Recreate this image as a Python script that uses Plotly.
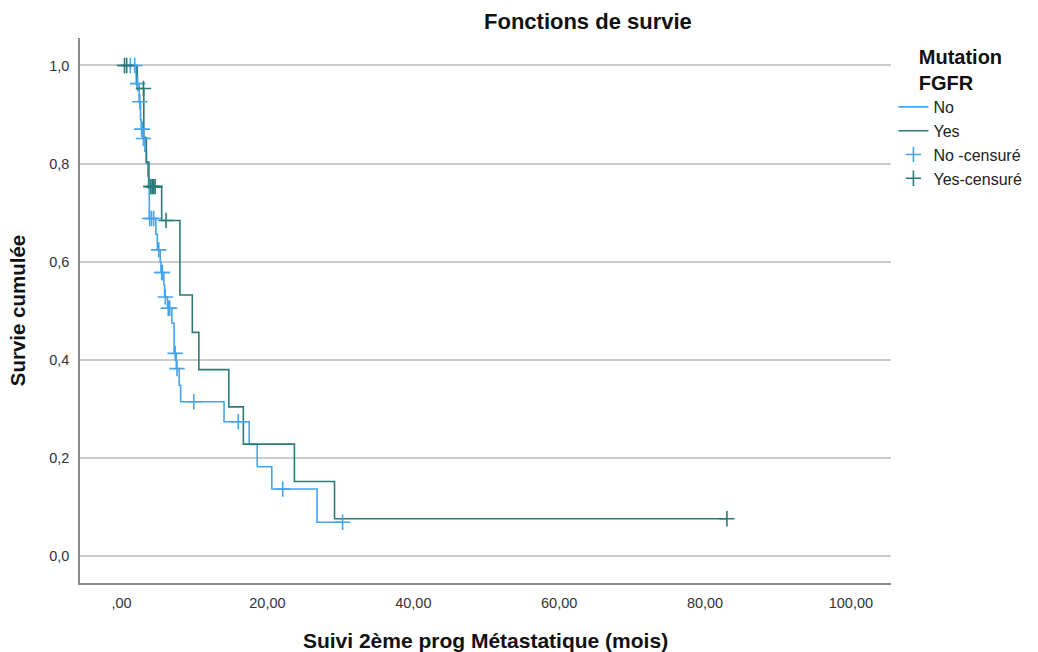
import numpy as np
import plotly.graph_objects as go

# ---- data (Kaplan-Meier step values) ----
no_times = [0, 2.0, 2.4, 2.6, 2.7, 2.9, 3.2, 3.4, 3.6, 3.7, 3.8, 4.7, 4.9, 5.3, 5.4,
            5.8, 5.9, 6.3, 6.9, 7.2, 7.5, 7.9, 8.1, 14.05, 17.5, 18.6, 20.6, 26.8]
no_surv = [1.0, 0.963, 0.926, 0.889, 0.870, 0.851, 0.825, 0.800, 0.775, 0.750, 0.688,
           0.656, 0.624, 0.600, 0.578, 0.553, 0.528, 0.505, 0.475, 0.413, 0.382, 0.348,
           0.3145, 0.2737, 0.2276, 0.182, 0.1365, 0.0687]
no_end = 30.3
no_censor = [1.2, 1.8, 2.2, 2.5, 2.75, 2.85, 3.0, 3.85, 4.1, 4.4, 5.1, 5.5, 5.6, 6.0,
             6.4, 6.6, 7.35, 7.6, 9.9, 16.0, 22.1, 30.3]

yes_times = [0, 2.15, 3.05, 3.4, 3.75, 5.5, 8.0, 9.7, 10.6, 14.7, 16.7, 23.7, 29.2]
yes_surv = [1.0, 0.953, 0.853, 0.803, 0.753, 0.684, 0.532, 0.456, 0.380, 0.304, 0.228,
            0.152, 0.076]
yes_end = 83.0
yes_censor = [0.4, 0.7, 3.0, 4.0, 4.2, 4.4, 4.6, 6.1, 83.0]

x_tickvals = [0, 20, 40, 60, 80, 100]
x_ticktext = [",00", "20,00", "40,00", "60,00", "80,00", "100,00"]
y_tickvals = [0.0, 0.2, 0.4, 0.6, 0.8, 1.0]
y_ticktext = ["0,0", "0,2", "0,4", "0,6", "0,8", "1,0"]

BLUE = "#45a4ee"
GREEN = "#2b7a76"
FONT = "Liberation Sans, Arial, sans-serif"


def step_value(times, surv, t):
    idx = np.searchsorted(np.asarray(times), t, side="right") - 1
    return [surv[i] for i in idx]


fig = go.Figure()
fig.add_trace(go.Scatter(x=no_times + [no_end], y=no_surv + [no_surv[-1]], mode="lines",
                         line=dict(color=BLUE, width=1.6, shape="hv"), name="No"))
fig.add_trace(go.Scatter(x=yes_times + [yes_end], y=yes_surv + [yes_surv[-1]], mode="lines",
                         line=dict(color=GREEN, width=1.6, shape="hv"), name="Yes"))
fig.add_trace(go.Scatter(x=no_censor, y=step_value(no_times, no_surv, no_censor), mode="markers",
                         marker=dict(symbol="cross-thin", size=11, line=dict(color=BLUE, width=1.6)),
                         name="No -censuré"))
fig.add_trace(go.Scatter(x=yes_censor, y=step_value(yes_times, yes_surv, yes_censor), mode="markers",
                         marker=dict(symbol="cross-thin", size=11, line=dict(color=GREEN, width=1.6)),
                         name="Yes-censuré"))

ML, MR, MT, MB = 80, 147, 38, 69
pw, ph = 1038 - ML - MR, 652 - MT - MB

fig.update_layout(
    width=1038, height=652,
    margin=dict(l=ML, r=MR, t=MT, b=MB, autoexpand=False),
    paper_bgcolor="white", plot_bgcolor="white",
    font=dict(family=FONT, color="#222", size=12),
    showlegend=True,
    legend=dict(x=1.003, y=1.0, xanchor="left", yanchor="top",
                font=dict(size=16, color="#222"),
                title=dict(text="<b>Mutation<br>FGFR</b>", side="top center",
                           font=dict(size=20, color="#111")),
                tracegroupgap=0, itemwidth=30, bgcolor="rgba(0,0,0,0)"),
    annotations=[
        dict(text="<b>Fonctions de survie</b>", x=(588 - ML) / pw, y=1 + (MT - 21) / ph,
             xref="paper", yref="paper", showarrow=False,
             font=dict(size=22, color="#111"), xanchor="center", yanchor="middle"),
    ],
)

fig.update_xaxes(range=[-5.7, 105.5], tickvals=x_tickvals, ticktext=x_ticktext,
                 showgrid=False, zeroline=False, showline=True, linecolor="#8c8c8c", linewidth=1.5,
                 ticks="", tickfont=dict(size=14.5, color="#333"), ticklabelstandoff=6,
                 automargin=False,
                 title=dict(text="<b>Suivi 2ème prog Métastatique (mois)</b>",
                            font=dict(size=21, color="#111"), standoff=24))
fig.update_yaxes(range=[-0.055, 1.056], tickvals=y_tickvals, ticktext=y_ticktext,
                 showgrid=True, gridcolor="#cccccc", gridwidth=1.5, zeroline=False,
                 showline=True, linecolor="#8c8c8c", linewidth=1.5,
                 ticks="", tickfont=dict(size=14.5, color="#333"), ticklabelstandoff=6,
                 automargin=False,
                 title=dict(text="<b>Survie cumulée</b>", font=dict(size=20.5, color="#111"), standoff=18))

fig.write_html("out.html", config={"displayModeBar": False},
               post_script="document.body.style.margin='0px';")
